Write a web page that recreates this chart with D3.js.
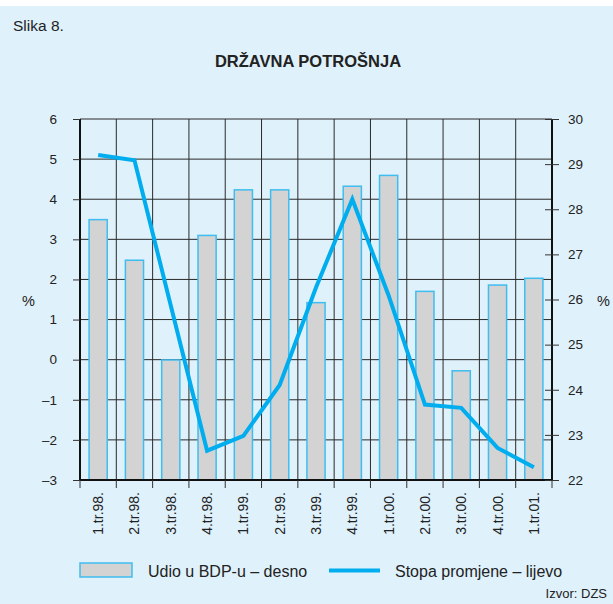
<!DOCTYPE html>
<html>
<head>
<meta charset="utf-8">
<script src="https://cdn.jsdelivr.net/npm/d3@7/dist/d3.min.js"></script>
<style>
  html, body { margin: 0; padding: 0; background: #fff; }
  svg { display: block; font-family: "Liberation Sans", Arial, sans-serif; }
</style>
</head>
<body>
<svg width="613" height="604"></svg>
<script>
const categories = ['1.tr.98.', '2.tr.98.', '3.tr.98.', '4.tr.98.', '1.tr.99.', '2.tr.99.', '3.tr.99.',
    '4.tr.99.', '1.tr.00.', '2.tr.00.', '3.tr.00.', '4.tr.00.', '1.tr.01.'];
// udio u BDP-u (desna os)
const shareValues = [27.77, 26.87, 24.66, 27.42, 28.43, 28.43, 25.93, 28.51, 28.75, 26.18, 24.42, 26.32, 26.47];
// stopa promjene (lijeva os)
const rateValues = [5.1, 4.97, 1.35, -2.27, -1.9, -0.63, 1.8, 4.0, 1.6, -1.12, -1.2, -2.2, -2.68];
const leftTicks = [-3, -2, -1, 0, 1, 2, 3, 4, 5, 6];
const rightTicks = [22, 23, 24, 25, 26, 27, 28, 29, 30];

const svg = d3.select('svg');
const bg = '#dff1fb';
const lineColor = '#00adee';
const font = '"Liberation Sans", Arial, sans-serif';

svg.append('rect').attr('x', 0).attr('y', 6).attr('width', 613).attr('height', 598).attr('fill', bg);

const margin = {left: 80, right: 552, top: 119, bottom: 480};

const x = d3.scaleBand().domain(categories).range([margin.left, margin.right]).padding(0);
const yL = d3.scaleLinear().domain([-3, 6]).range([margin.bottom, margin.top]);
const yR = d3.scaleLinear().domain([22, 30]).range([margin.bottom, margin.top]);

// title
svg.append('text').attr('x', 13).attr('y', 31).style('font-size', '15.5px').style('fill', '#222')
    .text('Slika 8.');
svg.append('text').attr('x', 308).attr('y', 67).attr('text-anchor', 'middle')
    .style('font-size', '16.5px').style('font-weight', 'bold').style('fill', '#222')
    .text('DRŽAVNA POTROŠNJA');

// grid
const grid = svg.append('g');
grid.selectAll('.hg').data(leftTicks).enter().append('line')
    .attr('x1', margin.left).attr('x2', margin.right)
    .attr('y1', d => yL(d)).attr('y2', d => yL(d))
    .style('stroke', '#2a2a2a').style('stroke-width', 1);
const bounds = categories.map(c => x(c)).concat([margin.right]);
grid.selectAll('.vg').data(bounds).enter().append('line')
    .attr('x1', d => d).attr('x2', d => d)
    .attr('y1', margin.top).attr('y2', margin.bottom)
    .style('stroke', '#2a2a2a').style('stroke-width', 1);

// bars
const bw = x.bandwidth() * 0.5;
svg.selectAll('.bar').data(shareValues).enter().append('rect')
    .attr('class', 'bar')
    .attr('x', (d, i) => x(categories[i]) + (x.bandwidth() - bw) / 2)
    .attr('width', bw)
    .attr('y', d => yR(d))
    .attr('height', d => yR(22) - yR(d))
    .style('fill', '#d3d3d3')
    .style('stroke', '#3fbdf0')
    .style('stroke-width', 1.5);

// line
const line = d3.line()
    .x((d, i) => x(categories[i]) + x.bandwidth() / 2)
    .y(d => yL(d));
svg.append('path').datum(rateValues).attr('d', line)
    .style('fill', 'none').style('stroke', lineColor).style('stroke-width', 4)
    .style('stroke-linejoin', 'miter');

// axes frame
svg.append('line').attr('x1', margin.left).attr('x2', margin.left).attr('y1', margin.top).attr('y2', margin.bottom + 1)
    .style('stroke', '#111').style('stroke-width', 2);
svg.append('line').attr('x1', margin.right).attr('x2', margin.right).attr('y1', margin.top).attr('y2', margin.bottom + 1)
    .style('stroke', '#111').style('stroke-width', 2);
svg.append('line').attr('x1', margin.left).attr('x2', margin.right).attr('y1', margin.bottom).attr('y2', margin.bottom)
    .style('stroke', '#111').style('stroke-width', 2);

// left axis
const leftAxis = svg.append('g').attr('transform', `translate(${margin.left},0)`)
    .call(d3.axisLeft(yL).tickValues(leftTicks).tickSize(7).tickPadding(16)
        .tickFormat(d => d < 0 ? '\u2013' + Math.abs(d) : d));
leftAxis.select('.domain').remove();
leftAxis.selectAll('line').style('stroke', '#333');
leftAxis.selectAll('text').style('font-size', '13.5px').style('fill', '#222').style('font-family', font);

// right axis
const rightAxis = svg.append('g').attr('transform', `translate(${margin.right},0)`)
    .call(d3.axisRight(yR).tickValues(rightTicks).tickSize(7).tickPadding(9));
rightAxis.select('.domain').remove();
rightAxis.selectAll('line').attr('x1', -7).style('stroke', '#333');
rightAxis.selectAll('text').style('font-size', '13.5px').style('fill', '#222').style('font-family', font);

// bottom ticks + labels
svg.selectAll('.bt').data(bounds).enter().append('line')
    .attr('x1', d => d).attr('x2', d => d).attr('y1', margin.bottom).attr('y2', margin.bottom + 8)
    .style('stroke', '#333').style('stroke-width', 1);
svg.selectAll('.cl').data(categories).enter().append('text')
    .attr('transform', d => `translate(${x(d) + x.bandwidth() / 2 + 5},492) rotate(-90)`)
    .attr('text-anchor', 'end')
    .style('font-size', '14px').style('fill', '#222')
    .text(d => d);

// unit labels
svg.append('text').attr('x', 22).attr('y', 306).style('font-size', '14.5px').style('fill', '#222').text('%');
svg.append('text').attr('x', 597).attr('y', 306).style('font-size', '14.5px').style('fill', '#222').text('%');

// legend
svg.append('rect').attr('x', 80).attr('y', 563).attr('width', 52).attr('height', 14)
    .style('fill', '#d3d3d3').style('stroke', '#3fbdf0').style('stroke-width', 1.5);
svg.append('text').attr('x', 148).attr('y', 577).style('font-size', '16px').style('fill', '#222')
    .text('Udio u BDP-u \u2013 desno');
svg.append('line').attr('x1', 329).attr('x2', 380).attr('y1', 570.5).attr('y2', 570.5)
    .style('stroke', lineColor).style('stroke-width', 4);
svg.append('text').attr('x', 395).attr('y', 577).style('font-size', '16px').style('fill', '#222')
    .text('Stopa promjene \u2013 lijevo');
svg.append('text').attr('x', 607).attr('y', 598).attr('text-anchor', 'end')
    .style('font-size', '13px').style('fill', '#222').text('Izvor: DZS');
</script>
</body>
</html>
